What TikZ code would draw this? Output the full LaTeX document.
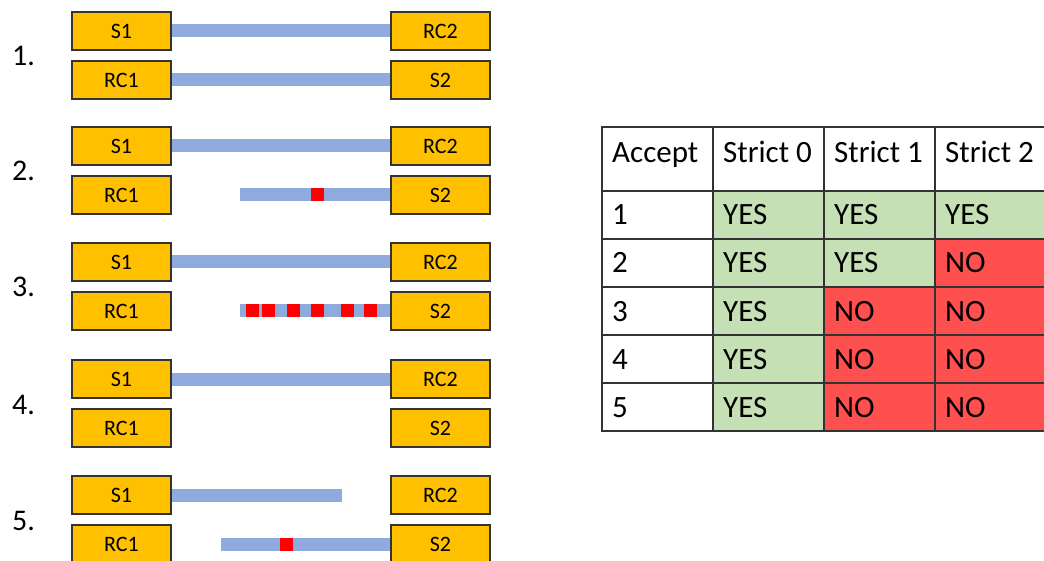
\documentclass[tikz,border=0pt]{standalone}
\usepackage{fontspec}
\setmainfont{Carlito}
\usepackage{tikz}

\definecolor{unitfill}{HTML}{FFC000}
\definecolor{barblue}{HTML}{8FAADC}
\definecolor{yesgreen}{HTML}{C5E0B4}
\definecolor{nored}{HTML}{FF5050}

\tikzset{
  unit/.style={draw=black!80, line width=1.3pt, fill=unitfill, inner sep=0pt,
    minimum width=99pt, minimum height=38pt, font=\fontsize{22}{24}\selectfont},
  link/.style={barblue, line width=13pt},
  rule/.style={draw=black!80, line width=1.3pt},
  caselabel/.style={anchor=base west, inner sep=0pt, font=\fontsize{30}{32}\selectfont},
  cell/.style={anchor=base west, inner sep=0pt, font=\fontsize{31}{33}\selectfont},
}

\begin{document}
\begin{tikzpicture}[x=1pt, y=-1pt]

\useasboundingbox (0,0) rectangle (1044,561);

% Boxes for the five cases
\foreach \r/\y in {1/31, 2/146, 3/262, 4/379, 5/495} {
  \node[caselabel] (case\r) at (12,\y+35) {\r.};
  \node[unit] (s1-\r)  at (121.5,\y)    {S1};
  \node[unit] (rc1-\r) at (121.5,\y+49) {RC1};
  \node[unit] (rc2-\r) at (440.5,\y)    {RC2};
  \node[unit] (s2-\r)  at (440.5,\y+49) {S2};
}

% Links S1 -> RC2
\foreach \r in {1,...,4}
  \draw[link] (s1-\r.east) -- (rc2-\r.west);
\coordinate (cut5) at (342,495);
\draw[link] (s1-5.east) -- (cut5);

% Links RC1 -> S2
\draw[link] (rc1-1.east) -- (s2-1.west);
\coordinate (cut2) at (240,195);
\coordinate (cut3) at (240,311);
\coordinate (cut6) at (221,544);
\draw[link] (cut2) -- (s2-2.west);
\draw[link] (cut3) -- (s2-3.west);
\draw[link] (cut6) -- (s2-5.west);

% Lost packets
\fill[red] (311,188.5) rectangle ++(13,13);
\foreach \x in {246,262,287,311,341,364}
  \fill[red] (\x,304.5) rectangle ++(13,13);
\fill[red] (280,537.5) rectangle ++(13,13);

% Table
\fill[yesgreen] (713,191) rectangle (824,431);
\fill[yesgreen] (824,191) rectangle (935,287);
\fill[yesgreen] (935,191) rectangle (1046,239);
\fill[nored] (824,287) rectangle (935,431);
\fill[nored] (935,239) rectangle (1046,431);
\draw[rule] (602,127) rectangle (1046,431);
\foreach \x in {713,824,935}
  \draw[rule] (\x,127) -- (\x,431);
\foreach \y in {191,239,287,335,383}
  \draw[rule] (602,\y) -- (1046,\y);

\node[cell] (hd0) at (612,163) {Accept};
\node[cell] (hd1) at (723,163) {Strict 0};
\node[cell] (hd2) at (834,163) {Strict 1};
\node[cell] (hd3) at (945,163) {Strict 2};

\foreach \k/\a/\b/\c in {1/YES/YES/YES, 2/YES/YES/NO, 3/YES/NO/NO, 4/YES/NO/NO, 5/YES/NO/NO} {
  \node[cell] (row\k) at (612,{225+48*(\k-1)}) {\k};
  \node[cell] (v0-\k) at (723,{225+48*(\k-1)}) {\a};
  \node[cell] (v1-\k) at (834,{225+48*(\k-1)}) {\b};
  \node[cell] (v2-\k) at (945,{225+48*(\k-1)}) {\c};
}

\end{tikzpicture}
\end{document}
